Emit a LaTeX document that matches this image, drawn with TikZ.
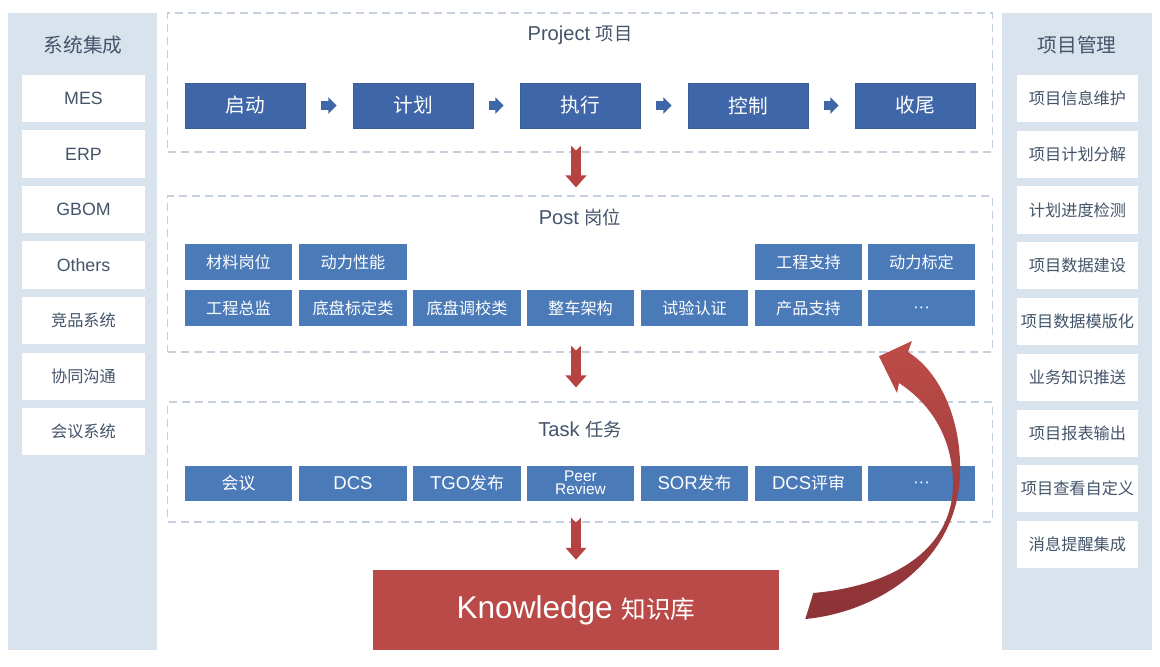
\documentclass[tikz,border=0pt]{standalone}
\usepackage{fontspec}
\setmainfont{Liberation Sans}[Scale=1.1]
\newfontfamily\cjk{Noto Sans CJK SC}
\newcommand{\zh}[1]{{\cjk #1}}
\newcommand{\moredots}{\vphantom{Ag}···}
\usetikzlibrary{arrows.meta}
\definecolor{panelbg}{RGB}{217,227,238}
\definecolor{titlegray}{RGB}{68,84,106}
\definecolor{stepblue}{RGB}{62,102,168}
\definecolor{postblue}{RGB}{74,122,184}
\definecolor{dashgray}{RGB}{197,207,221}
\definecolor{knowred}{RGB}{185,74,72}
\definecolor{arrowred}{RGB}{181,68,64}
\definecolor{loopred}{RGB}{190,76,72}
\definecolor{loopdark}{RGB}{140,50,54}

\tikzset{
  layerbox/.style={draw=dashgray, dash pattern=on 5.7pt off 3.5pt, line width=0.8pt, minimum width=20.6cm, inner sep=0pt},
  layertitle/.style={text=titlegray, font=\fontsize{13}{15}\selectfont},
  sidetitle/.style={text=titlegray, font=\fontsize{14}{16}\selectfont},
  sidebox/.style={fill=white, text=titlegray, minimum width=3.075cm, minimum height=1.175cm, inner sep=0pt, font=\fontsize{11.5}{13}\selectfont},
  stepbox/.style={fill=stepblue, draw=stepblue!92!black, line width=0.4pt, text=white, minimum width=3cm, minimum height=1.125cm, inner sep=0pt, font=\fontsize{14}{16}\selectfont},
  postbox/.style={fill=postblue, text=white, minimum width=2.675cm, minimum height=0.9cm, inner sep=0pt, font=\fontsize{11.5}{13}\selectfont},
  taskbox/.style={postbox, minimum height=0.875cm, font=\fontsize{12}{13}\selectfont},
  morebox/.style={postbox, font=\fontsize{11}{12}\selectfont},
  steparrow/.style={draw=stepblue, line width=6.2pt, -{Triangle[width=11.5pt,length=6pt]}, shorten <=0.4cm, shorten >=0.4cm},
  downarrow/.style={draw=arrowred, line width=7pt, {Triangle Cap[reversed]}-{Triangle[width=14.5pt,length=8.5pt]}}
}

\begin{document}
\begin{tikzpicture}[x=0.025cm, y=-0.025cm]
    % canvas
    \fill[white] (0,0) rectangle (1160,666);
    \useasboundingbox (0,0) rectangle (1160,666);

    % side panels
    \fill[panelbg] (8,13) rectangle (157,650);
    \fill[panelbg] (1002,13) rectangle (1152,650);
    \node[sidetitle] (systitle) at (83,45) {\zh{系统集成}};
    \node[sidetitle] (pmtitle) at (1077,45) {\zh{项目管理}};
    \foreach \txt [count=\i] in {MES, ERP, GBOM, Others, \zh{竞品系统}, \zh{协同沟通}, \zh{会议系统}}
        \node[sidebox] (sys\i) at (83.5,{43+55.5*\i}) {\txt};
    \foreach \txt [count=\i] in {项目信息维护, 项目计划分解, 计划进度检测, 项目数据建设, 项目数据模版化, 业务知识推送, 项目报表输出, 项目查看自定义, 消息提醒集成}
        \node[sidebox, minimum width=3.025cm] (pm\i) at (1077.5,{42.75+55.75*\i}) {\zh{\txt}};

    % dashed layers
    \node[layerbox, minimum height=3.475cm] (projbox) at (580,82.5) {};
    \node[layerbox, minimum height=3.9cm] (postbox) at (580,274) {};
    \node[layerbox, minimum height=3cm] (taskbox) at (580,462) {};
    \node[layertitle] (projtitle) at (580,35) {Project \zh{项目}};
    \node[layertitle] (posttitle) at (580,217) {Post \zh{岗位}};
    \node[layertitle] (tasktitle) at (580,430) {Task \zh{任务}};

    % project steps
    \node[stepbox] (start) at (245,105.5) {\zh{启动}};
    \node[stepbox] (plan) at (413,105.5) {\zh{计划}};
    \node[stepbox] (exec) at (580,105.5) {\zh{执行}};
    \node[stepbox] (ctrl) at (748,105.5) {\zh{控制}};
    \node[stepbox] (close) at (915,105.5) {\zh{收尾}};
    \draw[steparrow] (start) -- (plan);
    \draw[steparrow] (plan) -- (exec);
    \draw[steparrow] (exec) -- (ctrl);
    \draw[steparrow] (ctrl) -- (close);

    % posts
    \node[postbox] (mat) at (238.5,262) {\zh{材料岗位}};
    \node[postbox] (power) at (353,262) {\zh{动力性能}};
    \node[postbox] (engsup) at (808.5,262) {\zh{工程支持}};
    \node[postbox] (powcal) at (921.5,262) {\zh{动力标定}};
    \node[postbox] (chief) at (238.5,308) {\zh{工程总监}};
    \node[postbox] (chcal) at (353,308) {\zh{底盘标定类}};
    \node[postbox] (chtune) at (467,308) {\zh{底盘调校类}};
    \node[postbox] (arch) at (580.5,308) {\zh{整车架构}};
    \node[postbox] (test) at (694.5,308) {\zh{试验认证}};
    \node[postbox] (prodsup) at (808.5,308) {\zh{产品支持}};
    \node[morebox] (postmore) at (921.5,308) {\moredots};

    % tasks
    \node[taskbox] (meeting) at (238.5,483) {\zh{会议}};
    \node[taskbox] (dcs) at (353,483) {DCS};
    \node[taskbox] (tgo) at (467,483) {TGO\zh{发布}};
    \node[taskbox, align=center, font=\fontsize{10}{9.5}\selectfont] (peer) at (580.5,483) {Peer\\Review};
    \node[taskbox] (sor) at (694.5,483) {SOR\zh{发布}};
    \node[taskbox] (dcsrev) at (808.5,483) {DCS\zh{评审}};
    \node[morebox, minimum height=0.875cm] (taskmore) at (921.5,483) {\moredots};

    % knowledge base
    \node[fill=knowred, text=white, minimum width=10.15cm, minimum height=2cm, inner sep=0pt] (know) at (576,610)
        {\fontsize{20.4}{24}\selectfont Knowledge \fontsize{17.5}{20}\selectfont\zh{知识库}};

    % red arrows between layers
    \draw[downarrow] ([xshift=-0.1cm, yshift=0.175cm]projbox.south) -- ([xshift=-0.1cm, yshift=0.2cm]postbox.north);
    \draw[downarrow] ([xshift=-0.1cm, yshift=0.175cm]postbox.south) -- ([xshift=-0.1cm, yshift=0.35cm]taskbox.north);
    \draw[downarrow] ([xshift=-0.1cm, yshift=0.125cm]taskbox.south) -- ([yshift=0.25cm]know.north);

    % feedback loop back to posts
    \shade[top color=loopred, bottom color=loopdark]
        ([shift={(34,-17)}]know.east) .. controls (900,585) and (955,545) .. (953,480)
        .. controls (951,430) and (925,400) .. (899,383)
        -- (897,393) -- ([shift={(-42.5,30)}]postmore.south) -- (912,341) -- (908,352)
        .. controls (940,372) and (962,420) .. (960,475)
        .. controls (957,560) and (880,612) .. ([shift={(26,9)}]know.east) -- cycle;
\end{tikzpicture}
\end{document}
